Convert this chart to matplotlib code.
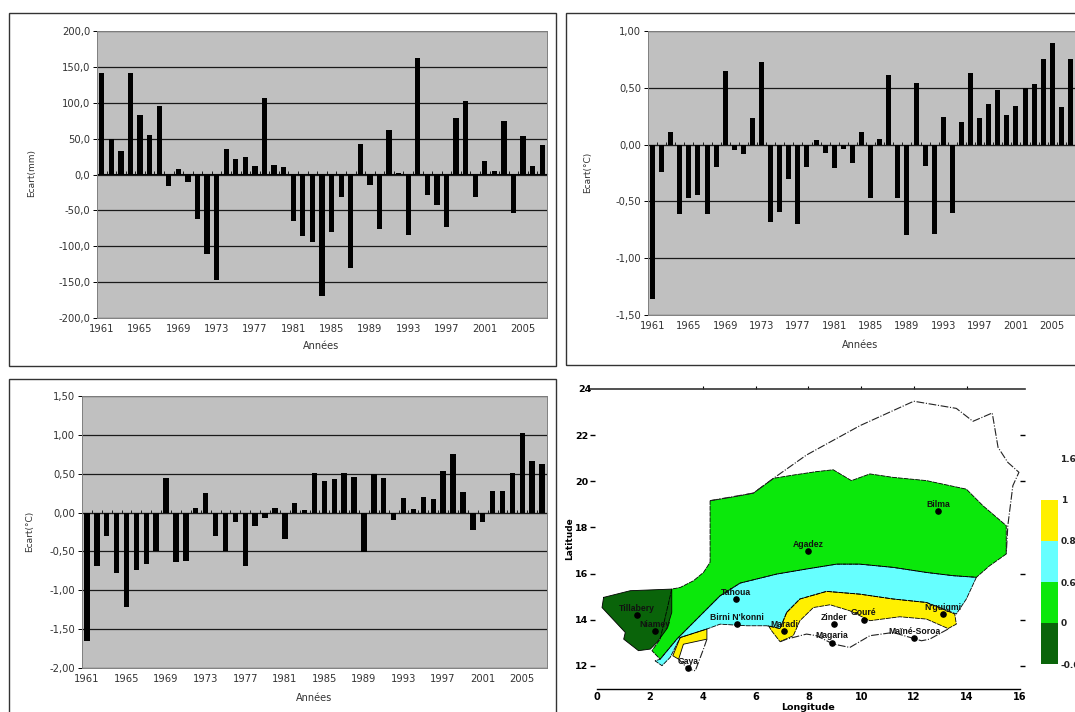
import matplotlib
matplotlib.use('Agg')
import matplotlib.pyplot as plt
from matplotlib.patches import Rectangle

plt.rcParams.update({'font.family': 'DejaVu Sans', 'font.size': 7})

W, H = 1075, 712
TEXT = '#333333'
PLOT_BG = '#C0C0C0'

years = list(range(1961, 2008))

ecart_pluie = [142, 50, 33, 142, 83, 55, 95, -16, 8, -10, -62, -111, -147, 35, 21, 25, 12, 107, 13, 10,
               -65, -86, -94, -169, -80, -32, -131, 43, -15, -76, 62, 2, -85, 162, -28, -43, -73, 79, 103,
               -32, 19, 5, 74, -53, 53, 12, 41]
ecart_temp_a = [-1.36, -0.24, 0.11, -0.61, -0.47, -0.44, -0.61, -0.20, 0.65, -0.05, -0.08, 0.23, 0.73,
                -0.68, -0.59, -0.30, -0.70, -0.20, 0.04, -0.07, -0.21, -0.04, -0.16, 0.11, -0.47, 0.05,
                0.61, -0.47, -0.80, 0.54, -0.19, -0.79, 0.24, -0.60, 0.20, 0.63, 0.23, 0.36, 0.48, 0.26,
                0.34, 0.50, 0.53, 0.75, 0.89, 0.33, 0.75]
ecart_temp_b = [-1.65, -0.69, -0.30, -0.78, -1.22, -0.74, -0.66, -0.50, 0.45, -0.63, -0.62, 0.06, 0.25,
                -0.30, -0.50, -0.12, -0.69, -0.17, -0.07, 0.06, -0.34, 0.12, 0.03, 0.51, 0.41, 0.43,
                0.51, 0.46, -0.51, 0.49, 0.45, -0.09, 0.19, 0.05, 0.20, 0.17, 0.54, 0.76, 0.26, -0.22,
                -0.12, 0.28, 0.28, 0.51, 1.02, 0.66, 0.62]

ticks_pluie = [-200, -150, -100, -50, 0, 50, 100, 150, 200]
ticks_temp_a = [-1.5, -1.0, -0.5, 0, 0.5, 1.0]
ticks_temp_b = [-2.0, -1.5, -1.0, -0.5, 0, 0.5, 1.0, 1.5]

# map zones, (lon, lat)
zone_green = [(4.28, 19.16), (5.29, 19.35), (5.92, 19.49), (6.68, 20.13), (7.43, 20.27), (8.31, 20.42),
              (8.94, 20.50), (9.63, 20.03), (10.33, 20.32), (11.21, 20.17), (12.47, 20.03), (13.98, 19.66),
              (14.61, 18.94), (15.49, 18.08), (15.49, 16.85), (14.86, 16.34), (14.36, 15.84), (13.48, 15.91),
              (12.47, 16.05), (11.21, 16.27), (9.95, 16.41), (9.07, 16.41), (7.93, 16.20), (6.80, 15.98),
              (5.42, 15.59), (4.66, 15.04), (3.90, 14.17), (3.02, 13.16), (2.39, 12.29), (2.08, 12.66),
              (2.39, 13.16), (2.83, 15.33), (3.15, 15.40), (3.65, 15.69), (4.03, 16.05), (4.28, 16.49)]
zone_dark = [(0.25, 14.97), (1.26, 15.26), (2.83, 15.33), (2.83, 14.32), (2.64, 13.60), (2.27, 13.02),
             (2.02, 12.73), (1.57, 12.66), (1.01, 13.16), (1.07, 13.45), (0.19, 14.53)]
zone_cyan = [(4.66, 15.04), (5.42, 15.59), (6.80, 15.98), (7.93, 16.20), (9.07, 16.41), (9.95, 16.41),
             (11.21, 16.27), (12.47, 16.05), (13.48, 15.91), (14.36, 15.84), (13.98, 14.90), (13.60, 14.25),
             (12.47, 14.75), (11.21, 14.90), (9.95, 15.11), (8.69, 15.23), (7.68, 14.90), (7.18, 14.32),
             (6.93, 13.62), (6.42, 13.74), (5.67, 13.74), (4.66, 13.81), (4.16, 13.60), (3.15, 13.23),
             (2.77, 12.37), (2.46, 12.01), (2.20, 12.22), (2.39, 12.29), (3.02, 13.16), (3.90, 14.17)]
zone_yellow = [(7.18, 14.32), (7.68, 14.90), (8.69, 15.23), (9.95, 15.11), (11.21, 14.90), (12.47, 14.75),
               (13.54, 14.25), (13.60, 13.81), (13.29, 13.62), (12.47, 14.03), (11.46, 14.13), (10.33, 13.96),
               (9.57, 14.39), (8.82, 14.65), (8.19, 14.53), (7.68, 13.96), (7.43, 13.31), (6.93, 13.05),
               (6.61, 13.52), (6.49, 13.74), (6.93, 13.62)]
zone_yellow_sw = [(3.15, 13.23), (4.16, 13.60), (4.16, 13.16), (3.27, 12.94), (3.09, 12.29), (2.87, 12.44)]

border_north = [(4.28, 19.16), (5.92, 19.49), (6.68, 20.13), (7.93, 21.14), (9.95, 22.41), (11.99, 23.47),
                (13.60, 23.16), (14.23, 22.60), (14.96, 22.96), (15.18, 21.47), (15.55, 20.82), (15.97, 20.39),
                (15.74, 19.81), (15.55, 18.08), (15.49, 16.85)]
border_south = [(6.93, 13.05), (7.18, 13.16), (7.93, 13.38), (8.31, 13.31), (8.94, 12.95), (9.57, 12.80),
                (10.33, 13.31), (11.21, 13.45), (12.28, 13.09), (12.59, 13.16), (13.29, 13.60)]
border_sw = [(4.16, 13.16), (4.03, 12.73), (3.72, 11.79), (3.46, 11.86), (3.09, 12.29)]

city_names = ['Tillabery', 'Niamey', 'Tahoua', "Birni N'konni", 'Maradi', 'Zinder', 'Gouré', 'Magaria',
              'Maïné-Soroa', "N'guigmi", 'Agadez', 'Bilma', 'Gaya']
city_lon = [1.5, 2.2, 5.25, 5.3, 7.08, 8.97, 10.1, 8.9, 12.0, 13.1, 8.0, 12.9, 3.46]
city_lat = [14.2, 13.5, 14.9, 13.8, 13.5, 13.8, 14.0, 13.0, 13.2, 14.25, 16.96, 18.7, 11.9]

lon_ticks = [0, 2, 4, 6, 8, 10, 12, 14, 16]
lat_ticks = [22, 20, 18, 16, 14, 12]

legend_labels = ['-0.6', '0', '0.6', '0.8', '1']
legend_colours = ['#0A640A', '#0BE80B', '#66FFFF', '#FFF000']


def axes_px(fig, left, top, right, bottom):
    return fig.add_axes([left / W, 1 - bottom / H, (right - left) / W, (bottom - top) / H])


def text_px(fig, x, y, s, **kw):
    fig.text(x / W, 1 - y / H, s, ha='center', va='center', color=kw.pop('color', TEXT), **kw)


def frame_px(fig, left, top, right, bottom):
    fig.add_artist(Rectangle((left / W, 1 - bottom / H), (right - left) / W, (bottom - top) / H,
                             transform=fig.transFigure, fill=False, ec='#333333', lw=1))


def bar_panel(fig, box, values, yticks, fmt, ylabel, ylabel_xy, xlabel_xy):
    ax = axes_px(fig, *box)
    ax.set_facecolor(PLOT_BG)
    ax.set_axisbelow(True)
    ax.bar(years, values, width=0.55, color='black', zorder=3)
    ax.set_xlim(years[0] - 0.5, years[-1] + 0.5)
    ax.set_ylim(yticks[0], yticks[-1])
    ax.set_yticks(yticks)
    ax.set_yticklabels([fmt.format(v).replace('.', ',') for v in yticks], color=TEXT)
    ax.set_xticks(years[::4])
    ax.tick_params(axis='x', length=0, pad=4, labelsize=7.2, labelcolor=TEXT)
    ax.tick_params(axis='y', length=3, width=0.7, pad=2, labelsize=7.2)
    ax.yaxis.grid(True, color='#1a1a1a', lw=0.9)
    for s in ax.spines.values():
        s.set_color('#808080')
        s.set_linewidth(0.7)

    # zero line of the category axis, ticks between the years
    zero = (0 - yticks[0]) / (yticks[-1] - yticks[0])
    sec = ax.secondary_xaxis(zero)
    sec.set_xticks([y - 0.5 for y in years[1:]])
    sec.set_xticklabels([])
    sec.tick_params(length=2, width=0.7, color='#1a1a1a')
    sec.spines['bottom'].set_color('#1a1a1a')
    sec.spines['bottom'].set_linewidth(1.0)

    text_px(fig, *ylabel_xy, ylabel, rotation=90, fontsize=6.5)
    text_px(fig, *xlabel_xy, 'Années', fontsize=7)
    return ax


def map_panel(fig):
    ax = axes_px(fig, 590, 389, 1025, 689)
    ax.set_xlim(-0.265, 16.2)
    ax.set_ylim(11.0, 24.0)

    for pts, col in [(zone_green, legend_colours[1]), (zone_dark, legend_colours[0]),
                     (zone_cyan, legend_colours[2]), (zone_yellow, legend_colours[3]),
                     (zone_yellow_sw, legend_colours[3])]:
        ax.fill([p[0] for p in pts], [p[1] for p in pts], color=col, lw=0, zorder=2)

    # zone limits then country border
    for pts, ls in [(zone_green, (0, (6, 1))), (zone_dark, '-'), (zone_cyan, (0, (6, 1))),
                    (zone_yellow, (0, (6, 1))), (zone_yellow_sw, '-')]:
        ax.plot([p[0] for p in pts] + [pts[0][0]], [p[1] for p in pts] + [pts[0][1]],
                color='black', lw=0.6, ls=ls, zorder=3)
    for pts in [border_north, border_south, border_sw]:
        ax.plot([p[0] for p in pts], [p[1] for p in pts], color='#222222', lw=0.8,
                ls=(0, (7, 1.5, 1, 1.5)), zorder=3)

    ax.scatter(city_lon, city_lat, s=14, color='black', zorder=4)
    for name, lon, lat in zip(city_names, city_lon, city_lat):
        ax.annotate(name, (lon, lat), xytext=(0, 5), textcoords='offset points', ha='center', va='center',
                    fontsize=6.2, fontweight='bold', color='#111111', zorder=5,
                    fontfamily='Liberation Sans')

    for s in ['left', 'right']:
        ax.spines[s].set_visible(False)
    ax.spines['bottom'].set_bounds(0, 16)
    ax.spines['bottom'].set_linewidth(1.0)
    ax.spines['top'].set_linewidth(1.2)
    ax.spines['top'].set_color('#333333')

    ax.set_xticks(lon_ticks)
    ax.set_yticks(lat_ticks)
    ax.tick_params(axis='x', length=0, pad=2.5, labelsize=7, width=1)
    ax.tick_params(axis='y', direction='in', length=3.6, pad=1, labelsize=6.8, width=1)
    for lab in ax.get_xticklabels() + ax.get_yticklabels():
        lab.set_fontweight('bold')

    top = ax.secondary_xaxis('top')
    top.set_xticks(lon_ticks[2:-1])
    top.set_xticklabels([])
    top.tick_params(length=2.5, width=0.8)
    top.spines['top'].set_visible(False)
    right = ax.secondary_yaxis('right')
    right.set_yticks([22, 20, 16, 14, 12])
    right.set_yticklabels([])
    right.tick_params(direction='in', length=3.6, width=1)
    right.spines['right'].set_visible(False)

    text_px(fig, 585, 389, '24', fontsize=6.8, fontweight='bold', color='black')
    text_px(fig, 570, 539, 'Latitude', rotation=90, fontsize=6.5, fontweight='bold', color='black')
    text_px(fig, 808, 708, 'Longitude', fontsize=6.8, fontweight='bold', color='black')


def legend_panel(fig):
    ax = axes_px(fig, 1041, 500, 1058, 664)
    n = len(legend_colours)
    ax.bar([0] * n, [1] * n, bottom=list(range(n)), width=1, color=legend_colours)
    ax.set_xlim(-0.5, 0.5)
    ax.set_ylim(0, n)
    ax.set_xticks([])
    ax.yaxis.tick_right()
    ax.set_yticks(range(n + 1))
    ax.set_yticklabels(legend_labels, fontsize=6.5, fontweight='bold', color='#222222')
    ax.tick_params(axis='y', length=0, pad=2)
    for s in ax.spines.values():
        s.set_visible(False)
    text_px(fig, 1068, 459, '1.6', fontsize=6.5, fontweight='bold', color='#222222')


fig = plt.figure(figsize=(W / 100, H / 100), dpi=100, facecolor='white')

frame_px(fig, 9, 13, 556, 366)
frame_px(fig, 566, 13, 1085, 365)
frame_px(fig, 9, 379, 556, 725)

bar_panel(fig, (97, 31, 547, 318), ecart_pluie, ticks_pluie, '{:.1f}', 'Ecart(mm)', (32, 173), (321, 346))
bar_panel(fig, (648, 31, 1075, 315), ecart_temp_a, ticks_temp_a, '{:.2f}', 'Ecart(°C)', (588, 172), (860, 345))
bar_panel(fig, (82, 396, 547, 668), ecart_temp_b, ticks_temp_b, '{:.2f}', 'Ecart(°C)', (30, 531), (314, 698))
map_panel(fig)
legend_panel(fig)

fig.savefig('out.png', dpi=100, facecolor='white')
